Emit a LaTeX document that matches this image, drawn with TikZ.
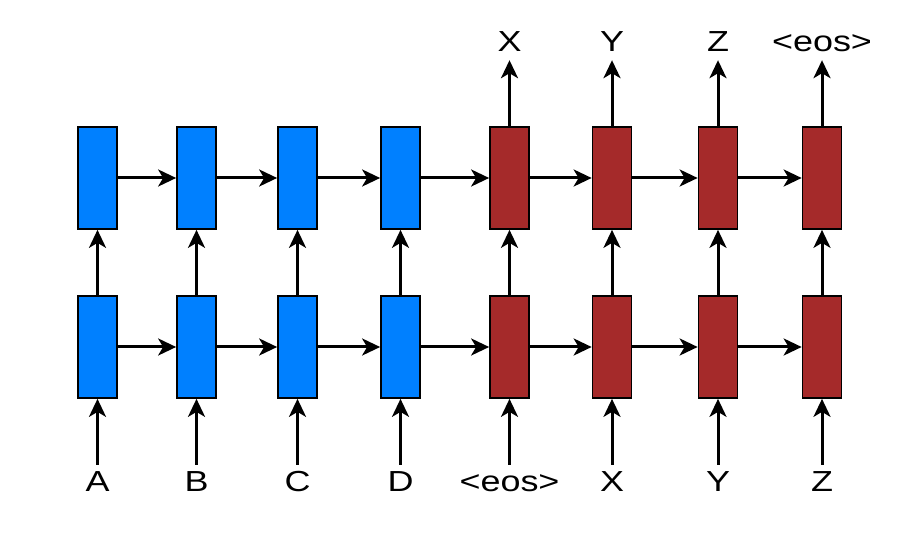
\documentclass[tikz,border=0pt]{standalone}
\usepackage{fontspec}
\setmainfont{Liberation Sans}
\usetikzlibrary{arrows.meta}
\definecolor{encblue}{RGB}{0,128,255}
\definecolor{decred}{RGB}{165,42,42}
\newcommand\tok[1]{\scalebox{1.24}[1]{#1}}
\begin{document}
\begin{tikzpicture}[x=1pt,y=1pt,
  cell/.style={draw=black,line width=1.7pt,minimum width=39pt,minimum height=102pt,inner sep=0pt},
  enc/.style={cell,fill=encblue},
  dec/.style={cell,fill=decred},
  lbl/.style={inner sep=0pt,text height=21pt,text depth=0pt,font=\fontsize{29}{29}\selectfont},
  arr/.style={line width=3pt,-{Stealth[length=18pt,width=17pt,inset=5pt]}},
  feed/.style={arr,shorten <=5pt},
  emit/.style={arr,shorten >=8pt}]
%\draw [help lines,step=50] (0,0) grid (923,538);
\useasboundingbox (0,0) rectangle (923,538);
% lower layer
\node [enc] (lo1) at (97.5,191) {};
\node [enc] (lo2) at (196.5,191) {};
\node [enc] (lo3) at (297.5,191) {};
\node [enc] (lo4) at (400.5,191) {};
\node [dec] (lo5) at (509.5,191) {};
\node [dec] (lo6) at (612,191) {};
\node [dec] (lo7) at (718,191) {};
\node [dec] (lo8) at (822,191) {};
% upper layer
\node [enc] (hi1) at (97.5,360) {};
\node [enc] (hi2) at (196.5,360) {};
\node [enc] (hi3) at (297.5,360) {};
\node [enc] (hi4) at (400.5,360) {};
\node [dec] (hi5) at (509.5,360) {};
\node [dec] (hi6) at (612,360) {};
\node [dec] (hi7) at (718,360) {};
\node [dec] (hi8) at (822,360) {};
% inputs
\node [lbl] (iA) at (97.5,57.5) {\tok{A}};
\node [lbl] (iB) at (196.5,57.5) {\tok{B}};
\node [lbl] (iC) at (297.5,57.5) {\tok{C}};
\node [lbl] (iD) at (400.5,57.5) {\tok{D}};
\node [lbl] (ieos) at (509.5,57.5) {\tok{<eos>}};
\node [lbl] (iX) at (612,57.5) {\tok{X}};
\node [lbl] (iY) at (718,57.5) {\tok{Y}};
\node [lbl] (iZ) at (822,57.5) {\tok{Z}};
% outputs
\node [lbl] (oX) at (509.5,496.5) {\tok{X}};
\node [lbl] (oY) at (612,496.5) {\tok{Y}};
\node [lbl] (oZ) at (718,496.5) {\tok{Z}};
\node [lbl] (oeos) at (822,496.5) {\tok{<eos>}};
\draw [feed] (iA)--(lo1); \draw [feed] (iB)--(lo2);
\draw [feed] (iC)--(lo3); \draw [feed] (iD)--(lo4);
\draw [feed] (ieos)--(lo5); \draw [feed] (iX)--(lo6);
\draw [feed] (iY)--(lo7); \draw [feed] (iZ)--(lo8);
\draw [arr] (lo1)--(hi1); \draw [arr] (lo2)--(hi2);
\draw [arr] (lo3)--(hi3); \draw [arr] (lo4)--(hi4);
\draw [arr] (lo5)--(hi5); \draw [arr] (lo6)--(hi6);
\draw [arr] (lo7)--(hi7); \draw [arr] (lo8)--(hi8);
\draw [arr] (lo1)--(lo2); \draw [arr] (lo2)--(lo3);
\draw [arr] (lo3)--(lo4); \draw [arr] (lo4)--(lo5);
\draw [arr] (lo5)--(lo6); \draw [arr] (lo6)--(lo7);
\draw [arr] (lo7)--(lo8);
\draw [arr] (hi1)--(hi2); \draw [arr] (hi2)--(hi3);
\draw [arr] (hi3)--(hi4); \draw [arr] (hi4)--(hi5);
\draw [arr] (hi5)--(hi6); \draw [arr] (hi6)--(hi7);
\draw [arr] (hi7)--(hi8);
\draw [emit] (hi5)--(oX); \draw [emit] (hi6)--(oY);
\draw [emit] (hi7)--(oZ); \draw [emit] (hi8)--(oeos);
\end{tikzpicture}
\end{document}
